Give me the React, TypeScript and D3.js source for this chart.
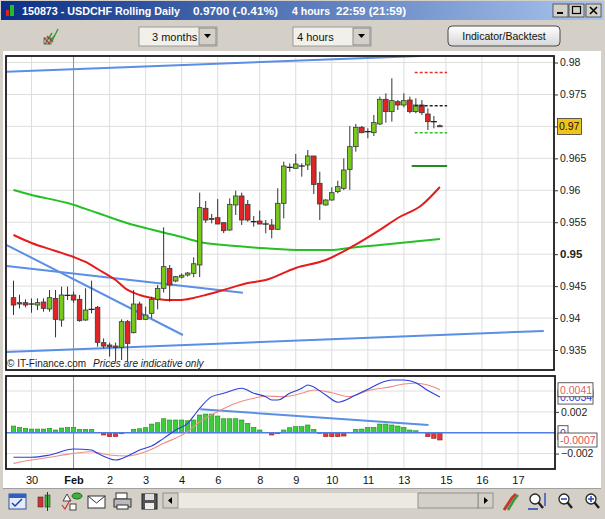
import { useEffect, useRef } from "react";
import * as d3 from "d3";

// 4-hour candles, bar index 0..71 (Jan 28 -> Feb 14)
const opens = [
  0.94319, 0.94241, 0.94241, 0.9422, 0.94204, 0.94251, 0.94142, 0.94308, 0.93969, 0.94355,
  0.94361, 0.94293, 0.93969, 0.94136, 0.94168, 0.93615, 0.93578, 0.93562, 0.93542, 0.93943,
  0.93771, 0.9422, 0.9398, 0.94074, 0.94293, 0.94465, 0.94778, 0.9458, 0.9464, 0.94674,
  0.947, 0.94831, 0.95718, 0.9556, 0.95571, 0.95493, 0.95378, 0.9577, 0.95911, 0.9578,
  0.95509, 0.95519, 0.95472, 0.95457, 0.95389, 0.95796, 0.96359, 0.96344, 0.9638, 0.96396,
  0.96537, 0.96109, 0.9577, 0.95848, 0.95979, 0.96031, 0.96328, 0.96683, 0.96986, 0.96918,
  0.96902, 0.97038, 0.97424, 0.97231, 0.97387, 0.97335, 0.97413, 0.97231, 0.97335, 0.97194,
  0.97074, 0.9701,
];
const highs = [
  0.94585, 0.94366, 0.94293, 0.94308, 0.94308, 0.94308, 0.94439, 0.94439, 0.94491, 0.94491,
  0.94413, 0.94361, 0.94465, 0.94585, 0.94189, 0.93682, 0.93615, 0.93615, 0.9398, 0.93969,
  0.94439, 0.94256, 0.94178, 0.94334, 0.94517, 0.9542, 0.9483, 0.9466, 0.947, 0.9472,
  0.9495, 0.95963, 0.95832, 0.95629, 0.95864, 0.95493, 0.95874, 0.95994, 0.95963, 0.95848,
  0.95597, 0.95681, 0.95535, 0.9555, 0.96031, 0.96448, 0.96422, 0.96568, 0.96422, 0.9663,
  0.96537, 0.96291, 0.9586, 0.96046, 0.9615, 0.965, 0.97007, 0.97038, 0.97007, 0.9697,
  0.97179, 0.97466, 0.97518, 0.97753, 0.97413, 0.97518, 0.97466, 0.9744, 0.97413, 0.97283,
  0.97163, 0.9703,
];
const lows = [
  0.94048, 0.94152, 0.94168, 0.94084, 0.94126, 0.941, 0.941, 0.93698, 0.93865, 0.94282,
  0.9424, 0.93943, 0.93959, 0.94074, 0.93552, 0.93526, 0.93396, 0.93317, 0.93343, 0.93317,
  0.93761, 0.93969, 0.93969, 0.93996, 0.94136, 0.944, 0.94256, 0.9456, 0.9462, 0.9465,
  0.9464, 0.9464, 0.95493, 0.95483, 0.95472, 0.9533, 0.95368, 0.95613, 0.95457, 0.95509,
  0.95431, 0.95472, 0.95326, 0.95248, 0.95378, 0.95561, 0.96291, 0.96344, 0.96213, 0.96318,
  0.95942, 0.95535, 0.9576, 0.95838, 0.95953, 0.96005, 0.96007, 0.96605, 0.96892, 0.96814,
  0.9685, 0.97022, 0.97059, 0.97075, 0.97257, 0.97299, 0.97205, 0.97205, 0.97179, 0.96944,
  0.9697, 0.9699,
];
const closes = [
  0.94204, 0.9422, 0.94204, 0.9422, 0.94241, 0.94152, 0.94319, 0.9398, 0.94361, 0.94355,
  0.94282, 0.93959, 0.94126, 0.94136, 0.9362, 0.93562, 0.93552, 0.93542, 0.93943, 0.93604,
  0.9422, 0.9398, 0.94048, 0.94293, 0.94465, 0.94805, 0.94517, 0.94648, 0.9467, 0.94705,
  0.9485, 0.95728, 0.95535, 0.95545, 0.95472, 0.95368, 0.9578, 0.95911, 0.95535, 0.95535,
  0.95509, 0.95472, 0.95472, 0.95389, 0.95796, 0.9638, 0.96359, 0.96411, 0.9638, 0.96537,
  0.9609, 0.95786, 0.95848, 0.95963, 0.96057, 0.96318, 0.96683, 0.96986, 0.96902, 0.96918,
  0.97059, 0.97424, 0.97231, 0.97403, 0.97335, 0.97403, 0.97231, 0.97335, 0.97215, 0.97074,
  0.97074, 0.97,
];

const dayIdx = [3, 10, 16, 22, 28, 34, 41, 47, 53, 59, 65, 72, 78, 84];
const dayLabels = ["30", "Feb", "2", "3", "4", "6", "8", "9", "10", "11", "13", "15", "16", "17"];
const priceTicks = [0.935, 0.94, 0.945, 0.95, 0.955, 0.96, 0.965, 0.97, 0.975, 0.98];
const macdTicks = [0.004, 0.002, -0.002];

// moving averages at some bars
const redIdx = [0, 3, 7, 10, 12, 14, 17, 19, 21, 23, 26, 28, 30, 32, 35, 39, 42, 47, 52, 56, 61, 64, 68, 71];
const redVal = [
  0.953, 0.95175, 0.9505, 0.94956, 0.94878, 0.94768, 0.94596, 0.9444, 0.94361, 0.94315, 0.94283, 0.94283,
  0.94315, 0.94361, 0.9444, 0.94549, 0.94596, 0.94784, 0.94909, 0.95097, 0.95379, 0.95566, 0.9577, 0.96052,
];
const greenIdx = [0, 3, 9, 14, 20, 23, 28, 31, 37, 42, 48, 53, 56, 61, 66, 71];
const greenVal = [
  0.96004, 0.95926, 0.958, 0.95644, 0.95456, 0.95386, 0.95268, 0.9519, 0.95127, 0.95092, 0.95065, 0.95065,
  0.95097, 0.95143, 0.9519, 0.95237,
];

// trend lines (bar index / price at both ends)
const trendK0 = [-1.13, -1.25, -1.13, -1.13];
const trendP0 = [0.97856, 0.93469, 0.95143, 0.94815];
const trendK1 = [67.7, 88.3, 28.2, 38.2];
const trendP1 = [0.98102, 0.93798, 0.93735, 0.94397];

// levels drawn on the right of the last bar
const levelPrices = [0.97843, 0.97324, 0.96901, 0.9638];

// MACD panel, values in 1e-4
const macdHist = [
  6.4, 5.1, 4.2, 3.5, 3.5, 3.5, 4.2, 2.6, 4.5, 5.1,
  5.1, 3.2, 3.2, 3.2, 0.2, -2.2, -3.8, -3.8, -1.0, 0.3,
  3.2, 3.8, 4.8, 8.3, 9.6, 13.4, 12.2, 12.2, 12.2, 11.5,
  12.2, 17.0, 17.9, 17.9, 16.0, 13.4, 13.4, 13.4, 12.2, 9.0,
  5.1, 2.6, 0.2, -2.2, -1.0, 2.6, 4.8, 5.8, 5.8, 7.4,
  3.2, -0.6, -3.8, -3.8, -3.8, -3.2, 0.3, 3.2, 3.5, 5.1,
  5.1, 8.3, 8.3, 7.4, 6.4, 5.1, 2.6, 1.9, 0.2, -3.8,
  -5.4, -7.0,
];
const macdIdx = [0, 3, 6, 10, 13, 14, 17, 19, 21, 23, 25, 27, 29, 30, 31, 33, 35, 38, 40, 42, 43, 44, 46, 48, 49, 52, 54, 57, 59, 61, 63, 65, 67, 69, 71];
const macdVal = [
  -23.6, -23.6, -21.4, -15.6, -16.6, -19.8, -26.2, -22.4, -16.6, -12.8, -5.4, 2.6, 9.0, 16.0, 23.4, 34.6, 37.8, 42.6,
  37.8, 34.6, 31.4, 31.4, 37.8, 42.6, 45.8, 36.2, 29.2, 36.2, 41.6, 47.4, 50.6, 50.6, 48.0, 40.4, 34.2,
];
const signalIdx = [0, 3, 6, 10, 13, 16, 19, 22, 25, 29, 31, 34, 37, 40, 42, 45, 48, 50, 53, 56, 59, 63, 65, 67, 69, 71];
const signalVal = [
  -29.4, -26.2, -23.6, -19.8, -18.2, -21.4, -22.4, -18.2, -10.2, 1.0, 10.6, 20.2, 28.2, 33.0, 35.2, 34.6, 37.8,
  41.0, 38.4, 34.6, 40.4, 44.2, 46.8, 47.4, 45.8, 41.2,
];
const macdTrendK = [31.1, 69.1];
const macdTrendV = [22.5, 7.4];

const FONT = "'Liberation Sans', Arial, sans-serif";

function drawChart(el: SVGSVGElement) {
  const svg = d3.select(el);
  svg.selectAll("*").remove();

  const x = d3.scaleLinear().domain([-1.25, 90]).range([6, 554]);
  const y = d3.scaleLinear().domain([0.93187, 0.98102]).range([370, 56]);
  const ym = d3.scaleLinear().domain([-0.00348, 0.00544]).range([469, 376]);

  const defs = svg.append("defs");
  const tg = defs.append("linearGradient").attr("id", "tbar");
  tg.append("stop").attr("offset", "0%").attr("stop-color", "#0b2f86");
  tg.append("stop").attr("offset", "100%").attr("stop-color", "#a9c6ee");
  const bg = defs.append("linearGradient").attr("id", "btn").attr("x1", 0).attr("y1", 0).attr("x2", 0).attr("y2", 1);
  bg.append("stop").attr("offset", "0%").attr("stop-color", "#ffffff");
  bg.append("stop").attr("offset", "100%").attr("stop-color", "#d6d6d6");
  defs.append("clipPath").attr("id", "clipMain").append("rect").attr("x", 6).attr("y", 56).attr("width", 548).attr("height", 314);
  defs.append("clipPath").attr("id", "clipMacd").append("rect").attr("x", 6).attr("y", 376).attr("width", 549).attr("height", 93);

  // window frame
  svg.append("rect").attr("width", 605).attr("height", 519).attr("fill", "#d4d0c8");
  svg.append("rect").attr("x", 3).attr("y", 51).attr("width", 598).attr("height", 437).attr("fill", "#fff");

  // title bar
  svg.append("rect").attr("x", 1).attr("y", 1).attr("width", 603).attr("height", 19).attr("fill", "url(#tbar)");
  svg.append("rect").attr("x", 6).attr("y", 10).attr("width", 3).attr("height", 6).attr("fill", "#e02020");
  svg.append("rect").attr("x", 10).attr("y", 5).attr("width", 4).attr("height", 11).attr("fill", "#20c020");
  const titleParts = [
    { t: "150873 - USDCHF Rolling Daily", x: 22, w: 158 },
    { t: "0.9700 (-0.41%)", x: 193, w: 85 },
    { t: "4 hours", x: 292, w: 38 },
    { t: "22:59 (21:59)", x: 336, w: 70 },
  ];
  svg.append("g").selectAll("text").data(titleParts).join("text")
    .attr("x", (d) => d.x).attr("y", 15)
    .attr("textLength", (d) => d.w).attr("lengthAdjust", "spacingAndGlyphs")
    .attr("fill", "#fff").attr("font-weight", "bold").attr("font-size", 11.5).attr("font-family", FONT)
    .text((d) => d.t);
  [553, 569, 586].forEach((bx, i) => {
    svg.append("rect").attr("x", bx).attr("y", 4).attr("width", 15).attr("height", 13).attr("fill", "#d4d0c8").attr("stroke", "#404040").attr("stroke-width", 0.8);
    if (i === 0) svg.append("rect").attr("x", bx + 4).attr("y", 12).attr("width", 6).attr("height", 2).attr("fill", "#000");
    if (i === 1) svg.append("rect").attr("x", bx + 3.5).attr("y", 6.5).attr("width", 8).attr("height", 7).attr("fill", "none").attr("stroke", "#000").attr("stroke-width", 1.2);
    if (i === 2) svg.append("path").attr("d", `M${bx + 4},7L${bx + 11},14M${bx + 11},7L${bx + 4},14`).attr("stroke", "#000").attr("stroke-width", 1.6);
  });

  // top toolbar
  const tb = svg.append("g");
  tb.append("path").attr("d", "M45,44L52,33M48,44L55,35M52,41L58,29").attr("stroke", "#3a9a3a").attr("stroke-width", 1.4).attr("fill", "none");
  tb.append("path").attr("d", "M44,38L50,44M47,36L53,42").attr("stroke", "#cc3333").attr("stroke-width", 1.2).attr("fill", "none");
  tb.append("rect").attr("x", 44).attr("y", 38).attr("width", 7).attr("height", 6).attr("fill", "none").attr("stroke", "#555").attr("stroke-width", 0.8);
  const dropdowns = [{ x: 139, t: "3 months" }, { x: 293, t: "4 hours" }];
  dropdowns.forEach((d) => {
    tb.append("rect").attr("x", d.x).attr("y", 27).attr("width", 78).attr("height", 19).attr("fill", "#f1f0ea").attr("stroke", "#8a8a8a").attr("stroke-width", 0.8);
    tb.append("text").attr("x", d.x + (d.t === "3 months" ? 13 : 4)).attr("y", 41).attr("font-size", 11).attr("font-family", FONT).attr("fill", "#111").text(d.t);
    tb.append("rect").attr("x", d.x + 60).attr("y", 28).attr("width", 17).attr("height", 17).attr("fill", "#d4d0c8").attr("stroke", "#777").attr("stroke-width", 0.8);
    tb.append("path").attr("d", `M${d.x + 65},34L${d.x + 72},34L${d.x + 68.5},38Z`).attr("fill", "#000");
  });
  tb.append("rect").attr("x", 448).attr("y", 26).attr("width", 112).attr("height", 20).attr("rx", 4).attr("fill", "url(#btn)").attr("stroke", "#4a4a4a").attr("stroke-width", 1);
  tb.append("text").attr("x", 504).attr("y", 40).attr("text-anchor", "middle").attr("font-size", 10.5).attr("font-family", FONT).attr("fill", "#111").text("Indicator/Backtest");

  // ---------- main price panel ----------
  const main = svg.append("g");
  main.append("g").selectAll("line").data(priceTicks).join("line")
    .attr("x1", 6).attr("x2", 554).attr("y1", (d) => y(d)).attr("y2", (d) => y(d))
    .attr("stroke", "#dedede").attr("stroke-width", 1);
  main.append("g").selectAll("line").data(dayIdx).join("line")
    .attr("x1", (d) => x(d)).attr("x2", (d) => x(d)).attr("y1", 56).attr("y2", 370)
    .attr("stroke", (d, i) => (dayLabels[i] === "Feb" ? "#8e8e8e" : "#dedede")).attr("stroke-width", 1);

  const plot = main.append("g").attr("clip-path", "url(#clipMain)");

  // trend lines
  plot.append("g").selectAll("line").data(trendK0).join("line")
    .attr("x1", (d) => x(d)).attr("y1", (d, i) => y(trendP0[i]))
    .attr("x2", (d, i) => x(trendK1[i])).attr("y2", (d, i) => y(trendP1[i]))
    .attr("stroke", "#5b8fe6").attr("stroke-width", 2);

  const maLine = d3.line<number>().curve(d3.curveMonotoneX);
  plot.append("path")
    .attr("d", maLine.x((d) => x(d)).y((d, i) => y(greenVal[i]))(greenIdx))
    .attr("fill", "none").attr("stroke", "#25c025").attr("stroke-width", 2);
  plot.append("path")
    .attr("d", maLine.x((d) => x(d)).y((d, i) => y(redVal[i]))(redIdx))
    .attr("fill", "none").attr("stroke", "#e41c1c").attr("stroke-width", 2);

  // candles
  const idx = d3.range(opens.length);
  const cg = plot.append("g");
  cg.selectAll("line.wick").data(idx).join("line").attr("class", "wick")
    .attr("x1", (i) => x(i)).attr("x2", (i) => x(i))
    .attr("y1", (i) => y(highs[i])).attr("y2", (i) => y(lows[i]))
    .attr("stroke", "#333").attr("stroke-width", 1);
  const doji = (i: number) => Math.abs(opens[i] - closes[i]) < 0.00004;
  cg.selectAll("rect").data(idx.filter((i) => !doji(i))).join("rect")
    .attr("x", (i) => x(i) - 2.3)
    .attr("y", (i) => y(Math.max(opens[i], closes[i])))
    .attr("width", 4.6)
    .attr("height", (i) => Math.max(1, Math.abs(y(opens[i]) - y(closes[i]))))
    .attr("fill", (i) => (closes[i] >= opens[i] ? "#78c81e" : "#e02424"))
    .attr("stroke", "#3a3a3a").attr("stroke-width", 0.8);
  cg.selectAll("line.doji").data(idx.filter(doji)).join("line").attr("class", "doji")
    .attr("x1", (i) => x(i) - 3).attr("x2", (i) => x(i) + 3)
    .attr("y1", (i) => y(closes[i])).attr("y2", (i) => y(closes[i]))
    .attr("stroke", "#222").attr("stroke-width", 1.3);

  // levels after last bar
  const levelStroke = ["#e83030", "#222", "#2ec02e", "#1e8e1e"];
  const levelDash = ["3,2", "3,2", "3,2", null];
  plot.append("g").selectAll("line").data(levelPrices).join("line")
    .attr("x1", (d, i) => x(i === 3 ? 66.3 : 66.8)).attr("x2", x(72.2))
    .attr("y1", (d) => y(d)).attr("y2", (d) => y(d))
    .attr("stroke", (d, i) => levelStroke[i]).attr("stroke-width", (d, i) => (i === 3 ? 2 : 1.6))
    .attr("stroke-dasharray", (d, i) => levelDash[i]);

  main.append("text").attr("x", 7).attr("y", 367).attr("font-size", 10).attr("font-family", FONT).attr("fill", "#222").text("© IT-Finance.com");
  main.append("text").attr("x", 93).attr("y", 367).attr("font-size", 10).attr("font-style", "italic").attr("font-family", FONT).attr("fill", "#222").text("Prices are indicative only");

  main.append("rect").attr("x", 6).attr("y", 56).attr("width", 548).attr("height", 314).attr("fill", "none").attr("stroke", "#1a1a1a").attr("stroke-width", 1.8);

  const yAxis = main.append("g").attr("transform", "translate(554,0)")
    .call(d3.axisRight(y).tickValues(priceTicks).tickSize(4).tickPadding(2).tickFormat((d) => d3.format(".3~f")(d as number)));
  yAxis.select(".domain").remove();
  yAxis.selectAll("line").attr("stroke", "#333");
  yAxis.selectAll("text").attr("font-family", FONT).attr("fill", "#222")
    .attr("font-weight", (d) => ((d as number) === 0.95 ? "bold" : "normal"))
    .attr("font-size", (d) => ((d as number) === 0.95 ? 11.5 : 10.5));
  main.append("rect").attr("x", 557.5).attr("y", y(0.97) - 8).attr("width", 24).attr("height", 16).attr("fill", "#f2c419").attr("stroke", "#3a3a3a").attr("stroke-width", 0.8);
  main.append("text").attr("x", 559).attr("y", y(0.97) + 4).attr("font-size", 10.5).attr("font-family", FONT).attr("fill", "#111").text("0.97");

  // ---------- MACD panel ----------
  const mp = svg.append("g");
  mp.append("g").selectAll("line").data(macdTicks).join("line")
    .attr("x1", 6).attr("x2", 555).attr("y1", (d) => ym(d)).attr("y2", (d) => ym(d))
    .attr("stroke", "#dedede");
  mp.append("g").selectAll("line").data(dayIdx).join("line")
    .attr("x1", (d) => x(d)).attr("x2", (d) => x(d)).attr("y1", 376).attr("y2", 469)
    .attr("stroke", (d, i) => (dayLabels[i] === "Feb" ? "#8e8e8e" : "#dedede"));
  const mplot = mp.append("g").attr("clip-path", "url(#clipMacd)");
  mplot.append("g").selectAll("rect").data(macdHist).join("rect")
    .attr("x", (d, i) => x(i) - 2.2).attr("width", 4.4)
    .attr("y", (d) => ym(Math.max(0, d * 1e-4)))
    .attr("height", (d) => Math.abs(ym(d * 1e-4) - ym(0)))
    .attr("fill", (d) => (d >= 0 ? "#3ccc3c" : "#dd3a3a"))
    .attr("stroke", (d) => (d >= 0 ? "#1a8f1a" : "#9a2020")).attr("stroke-width", 0.6);
  mplot.append("line").attr("x1", 6).attr("x2", 555).attr("y1", ym(0)).attr("y2", ym(0)).attr("stroke", "#4f7fe6").attr("stroke-width", 1.5);
  mplot.append("line")
    .attr("x1", x(macdTrendK[0])).attr("y1", ym(macdTrendV[0] * 1e-4))
    .attr("x2", x(macdTrendK[1])).attr("y2", ym(macdTrendV[1] * 1e-4))
    .attr("stroke", "#5b8fe6").attr("stroke-width", 2);
  const ml = d3.line<number>().curve(d3.curveMonotoneX);
  mplot.append("path").attr("d", ml.x((d) => x(d)).y((d, i) => ym(signalVal[i] * 1e-4))(signalIdx))
    .attr("fill", "none").attr("stroke", "#f08c84").attr("stroke-width", 1.1);
  mplot.append("path").attr("d", ml.x((d) => x(d)).y((d, i) => ym(macdVal[i] * 1e-4))(macdIdx))
    .attr("fill", "none").attr("stroke", "#2c3ed8").attr("stroke-width", 1.1);
  mp.append("rect").attr("x", 6).attr("y", 376).attr("width", 549).attr("height", 93).attr("fill", "none").attr("stroke", "#1a1a1a").attr("stroke-width", 1.8);

  const mAxis = mp.append("g").attr("transform", "translate(555,0)")
    .call(d3.axisRight(ym).tickValues([0.002, -0.002]).tickSize(4).tickPadding(2).tickFormat((d) => d3.format(".3~f")(d as number)));
  mAxis.select(".domain").remove();
  mAxis.selectAll("line").attr("stroke", "#333");
  mAxis.selectAll("text").attr("font-size", 10.5).attr("font-family", FONT).attr("fill", "#222");

  const lastMacd = macdVal[macdVal.length - 1] * 1e-4;
  const lastSignal = signalVal[signalVal.length - 1] * 1e-4;
  const lastHist = macdHist[macdHist.length - 1] * 1e-4;
  const fmt = (v: number) => d3.format(".4f")(v).replace("−", "-");
  const valueBox = (v: number, w: number, color: string, label: string) => {
    mp.append("rect").attr("x", 558).attr("y", ym(v) - 7).attr("width", w).attr("height", 14).attr("fill", "#fff").attr("stroke", "#333").attr("stroke-width", 0.8);
    mp.append("text").attr("x", 560).attr("y", ym(v) + 4).attr("font-size", 10.5).attr("font-family", FONT).attr("fill", color).text(label);
  };
  valueBox(lastMacd, 35, "#2c3ed8", fmt(lastMacd));
  valueBox(lastSignal, 35, "#e06464", fmt(lastSignal));
  valueBox(0, 10, "#2c3ed8", "0");
  valueBox(lastHist, 39, "#e05050", fmt(lastHist));

  // x axis labels
  const xAxis = svg.append("g").attr("transform", "translate(0,476)")
    .call(d3.axisBottom(x).tickValues(dayIdx).tickSize(0).tickPadding(0).tickFormat((d, i) => dayLabels[i]));
  xAxis.select(".domain").remove();
  xAxis.selectAll("text").attr("font-size", 11).attr("font-family", FONT).attr("fill", "#111")
    .attr("font-weight", (d, i) => (dayLabels[i] === "Feb" ? "bold" : "normal"));

  // bottom toolbar
  const bt = svg.append("g");
  bt.append("line").attr("x1", 3).attr("x2", 601).attr("y1", 488.5).attr("y2", 488.5).attr("stroke", "#a0a0a0");
  // calendar
  bt.append("rect").attr("x", 9).attr("y", 494).attr("width", 17).attr("height", 15).attr("fill", "#e4ecf8").attr("stroke", "#3050a0");
  bt.append("rect").attr("x", 9).attr("y", 494).attr("width", 17).attr("height", 4).attr("fill", "#3060c0");
  bt.append("path").attr("d", "M12,503L15,506L22,499").attr("stroke", "#2040b0").attr("stroke-width", 1.5).attr("fill", "none");
  // candles icon
  bt.append("rect").attr("x", 38).attr("y", 497).attr("width", 5).attr("height", 10).attr("fill", "#d03030").attr("stroke", "#333").attr("stroke-width", 0.6);
  bt.append("rect").attr("x", 45).attr("y", 495).attr("width", 5).attr("height", 12).attr("fill", "#40b040").attr("stroke", "#333").attr("stroke-width", 0.6);
  bt.append("line").attr("x1", 47.5).attr("x2", 47.5).attr("y1", 492).attr("y2", 511).attr("stroke", "#333");
  // shapes
  bt.append("path").attr("d", "M63,501L67,494L71,501Z").attr("fill", "#fff").attr("stroke", "#444");
  bt.append("rect").attr("x", 70).attr("y", 504).attr("width", 6).attr("height", 6).attr("fill", "#fff").attr("stroke", "#444");
  bt.append("ellipse").attr("cx", 77).attr("cy", 496).attr("rx", 5).attr("ry", 3).attr("fill", "#40b040").attr("stroke", "#226622");
  bt.append("path").attr("d", "M62,505L65,509L70,500").attr("stroke", "#d03030").attr("stroke-width", 1.2).attr("fill", "none");
  // envelope
  bt.append("rect").attr("x", 88).attr("y", 496).attr("width", 17).attr("height", 12).attr("fill", "#fff").attr("stroke", "#333");
  bt.append("path").attr("d", "M88,496L96.5,503L105,496").attr("stroke", "#333").attr("fill", "none");
  // printer
  bt.append("rect").attr("x", 116).attr("y", 493).attr("width", 11).attr("height", 6).attr("fill", "#fff").attr("stroke", "#333");
  bt.append("rect").attr("x", 114).attr("y", 499).attr("width", 17).attr("height", 8).attr("fill", "#bbb").attr("stroke", "#333");
  bt.append("rect").attr("x", 117).attr("y", 505).attr("width", 11).attr("height", 4).attr("fill", "#fff").attr("stroke", "#333");
  // floppy
  bt.append("rect").attr("x", 142).attr("y", 494).attr("width", 15).attr("height", 15).attr("fill", "#555").attr("stroke", "#222");
  bt.append("rect").attr("x", 145).attr("y", 494).attr("width", 9).attr("height", 6).attr("fill", "#ddd");
  bt.append("rect").attr("x", 145).attr("y", 503).attr("width", 9).attr("height", 6).attr("fill", "#eee");
  // scrollbar
  bt.append("rect").attr("x", 178).attr("y", 493).attr("width", 300).attr("height", 15).attr("fill", "#ebe9e2");
  [163, 478].forEach((sx) => {
    bt.append("rect").attr("x", sx).attr("y", 493).attr("width", 15).attr("height", 15).attr("fill", "#d4d0c8").attr("stroke", "#808080").attr("stroke-width", 0.8);
  });
  bt.append("path").attr("d", "M172,497L168,500.5L172,504Z").attr("fill", "#000");
  bt.append("path").attr("d", "M484,497L488,500.5L484,504Z").attr("fill", "#000");
  bt.append("rect").attr("x", 418).attr("y", 493).attr("width", 60).attr("height", 15).attr("fill", "#d4d0c8").attr("stroke", "#808080").attr("stroke-width", 0.8);
  // right icons
  bt.append("path").attr("d", "M504,510L512,498L516,494").attr("stroke", "#cc3333").attr("stroke-width", 3).attr("fill", "none");
  bt.append("path").attr("d", "M508,510L514,500L518,495").attr("stroke", "#3a9a3a").attr("stroke-width", 2.5).attr("fill", "none");
  [535, 564, 591].forEach((cx, i) => {
    bt.append("circle").attr("cx", cx).attr("cy", 499).attr("r", 5).attr("fill", "#fff").attr("stroke", "#222").attr("stroke-width", 1.3);
    bt.append("line").attr("x1", cx + 3.5).attr("y1", 502.5).attr("x2", cx + 8).attr("y2", 508).attr("stroke", "#222").attr("stroke-width", 2.4);
    if (i === 0) bt.append("path").attr("d", "M545,493L545,506M528,509L538,509").attr("stroke", "#2040c0").attr("stroke-width", 1.3);
    if (i >= 1) bt.append("line").attr("x1", cx - 3).attr("x2", cx + 3).attr("y1", 499).attr("y2", 499).attr("stroke", "#2040c0").attr("stroke-width", 1.5);
    if (i === 2) bt.append("line").attr("x1", cx).attr("x2", cx).attr("y1", 496).attr("y2", 502).attr("stroke", "#2040c0").attr("stroke-width", 1.5);
  });
}

export default function App() {
  const ref = useRef<SVGSVGElement>(null);
  useEffect(() => {
    if (ref.current) drawChart(ref.current);
  }, []);
  return (
    <>
      <style>{"body{margin:0}"}</style>
      <svg ref={ref} width={605} height={519} style={{ display: "block" }} />
    </>
  );
}
